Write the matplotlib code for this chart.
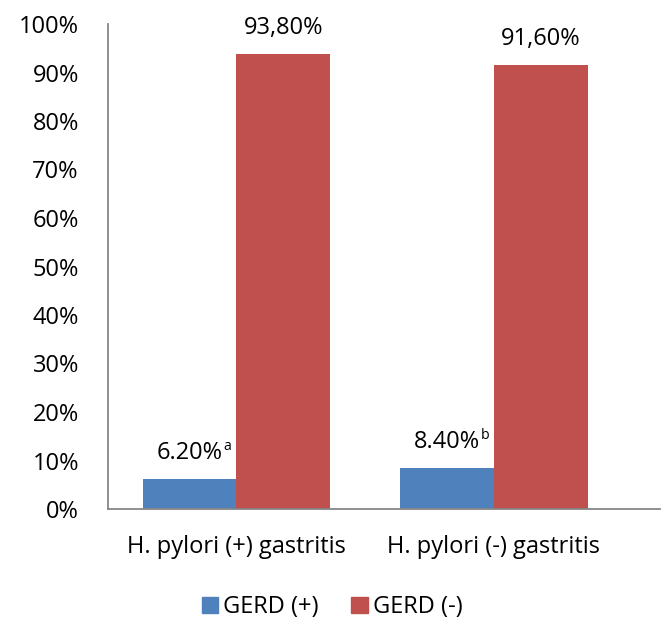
import numpy as np
import matplotlib.pyplot as plt
from matplotlib.patches import Patch

plt.rcParams['font.family'] = ['Open Sans', 'DejaVu Sans']

# data
categories = ['H. pylori (+) gastritis', 'H. pylori (-) gastritis']
series_names = ['GERD (+)', 'GERD (-)']
gerd_pos = [6.2, 8.4]
gerd_neg = [93.8, 91.6]
pos_labels = ['6.20%', '8.40%']
pos_marks = ['a', 'b']
neg_labels = ['93,80%', '91,60%']
colors = ['#4F81BD', '#C0504D']

fig = plt.figure(figsize=(6.62, 6.22), dpi=100)
ax = fig.add_axes([108/662, 1 - 509/622, (660 - 108)/662, (509 - 24)/622])

x = np.arange(len(categories))
w = 0.365
b1 = ax.bar(x - w/2, gerd_pos, w, color=colors[0])
b2 = ax.bar(x + w/2, gerd_neg, w, color=colors[1])

fs = 17
fig.canvas.draw()
r = fig.canvas.get_renderer()
for rect, lab, mk in zip(b1, pos_labels, pos_marks):
    xc = rect.get_x() + rect.get_width()/2
    t = ax.annotate(lab, (xc, rect.get_height()), xytext=(0, 10),
                    textcoords='offset points', ha='center', va='bottom', fontsize=fs)
    half = t.get_window_extent(r).width / 2 * 72 / fig.dpi
    # superscript letter right after the number
    ax.annotate(mk, (xc, rect.get_height()), xytext=(half + 0.3, 18),
                textcoords='offset points', ha='left', va='bottom', fontsize=fs*0.6)
for rect, lab in zip(b2, neg_labels):
    ax.annotate(lab, (rect.get_x() + rect.get_width()/2, rect.get_height()),
                xytext=(0, 10), textcoords='offset points', ha='center', va='bottom',
                fontsize=fs)

ax.set_xlim(-0.499, 1.645)
ax.set_ylim(0, 100)
ax.set_yticks(np.arange(0, 101, 10))
ax.set_yticklabels([f'{v}%' for v in range(0, 101, 10)], fontsize=fs)
ax.set_xticks(x)
ax.set_xticklabels(categories, fontsize=fs)
ax.tick_params(axis='y', length=0, pad=21)
ax.tick_params(axis='x', length=0, pad=19)

for s in ['top', 'right']:
    ax.spines[s].set_visible(False)
for s in ['left', 'bottom']:
    ax.spines[s].set_color('#868686')
    ax.spines[s].set_linewidth(1.3)

handles = [Patch(color=c) for c in colors]
fig.legend(handles, series_names, loc='center', bbox_to_anchor=(332/662, 0.024),
           ncol=2, frameon=False, fontsize=fs, handlelength=0.7, handleheight=0.7,
           handletextpad=0.2, columnspacing=1.4)

fig.savefig('out.png', dpi=100)
